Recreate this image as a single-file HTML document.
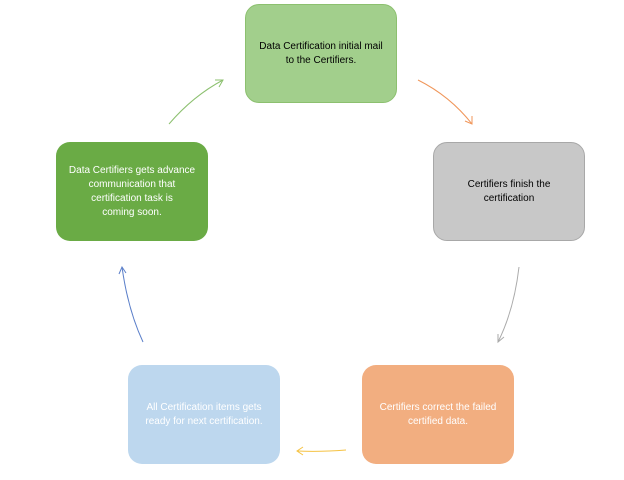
<!DOCTYPE html>
<html><head><meta charset="utf-8"><style>
body{margin:0;width:624px;height:480px;background:#fff;position:relative;overflow:hidden;font-family:"Liberation Sans",sans-serif;}
.b{position:absolute;width:152px;height:99px;border-radius:14px;display:flex;align-items:center;justify-content:center;text-align:center;font-size:10px;line-height:14px;box-sizing:border-box;padding:0 4px;white-space:nowrap;}
</style></head><body>
<div class="b" style="left:245px;top:4px;background:#a2cf8c;border:1px solid #8cc06f;color:#000">Data Certification initial mail<br>to the Certifiers.</div>
<div class="b" style="left:433px;top:142px;background:#c8c8c8;border:1px solid #a8a8a8;color:#000">Certifiers finish the<br>certification</div>
<div class="b" style="left:362px;top:365px;background:#f2ae80;color:#fff">Certifiers correct the failed<br>certified data.</div>
<div class="b" style="left:128px;top:365px;background:#bdd7ee;color:#fff">All Certification items gets<br>ready for next certification.</div>
<div class="b" style="left:56px;top:142px;background:#6aab45;color:#fff">Data Certifiers gets advance<br>communication that<br>certification task is<br>coming soon.</div>
<svg width="624" height="480" style="position:absolute;left:0;top:0" fill="none" stroke-width="1">
<path d="M169,124 Q193,96 223,80" stroke="#8cc06f"/><path d="M215,80 L223,80 L219,87" stroke="#8cc06f"/>
<path d="M418,80 Q450,96 472,124" stroke="#f0965a"/><path d="M472,116 L472,124 L465,121" stroke="#f0965a"/>
<path d="M519,267 Q514,310 498,342" stroke="#aaa"/><path d="M498,334 L498,342 L504,337" stroke="#aaa"/>
<path d="M346,450 Q320,452 297,451" stroke="#f5c242"/><path d="M303,447 L297,451 L303,455" stroke="#f5c242"/>
<path d="M143,342 Q128,310 122,267" stroke="#5b7fc9"/><path d="M119,274 L122,267 L126,273" stroke="#5b7fc9"/>
</svg>
</body></html>
